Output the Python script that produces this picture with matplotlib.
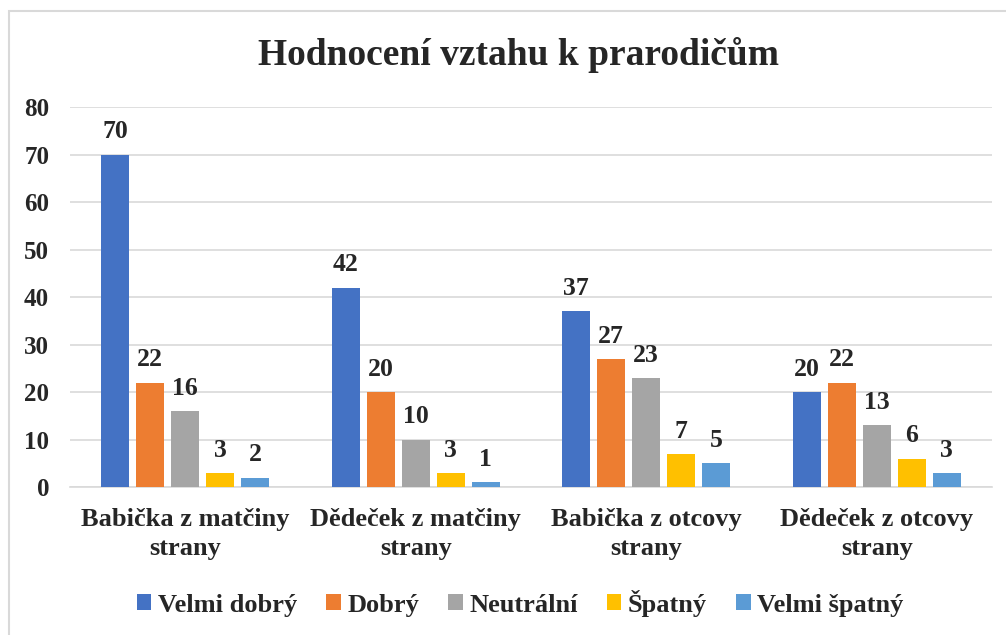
import numpy as np
import matplotlib.pyplot as plt
from matplotlib.patches import Rectangle

# ------------------------------
# Data
# ------------------------------
groups = ["Babička z matčiny\nstrany", "Dědeček z matčiny\nstrany",
          "Babička z otcovy\nstrany", "Dědeček z otcovy\nstrany"]
series = ["Velmi dobrý", "Dobrý", "Neutrální", "Špatný", "Velmi špatný"]
velmi_dobry = [70, 42, 37, 20]
dobry = [22, 20, 27, 22]
neutralni = [16, 10, 23, 13]
spatny = [3, 3, 7, 6]
velmi_spatny = [2, 1, 5, 3]
values = [velmi_dobry, dobry, neutralni, spatny, velmi_spatny]

colors = ["#4472C4", "#ED7D31", "#A5A5A5", "#FFC000", "#5B9BD5"]
text_color = "#262626"

plt.rcParams["font.family"] = ["Liberation Serif", "DejaVu Serif"]
plt.rcParams["font.weight"] = "bold"

fig = plt.figure(figsize=(10.06, 6.35), dpi=100)
# chart border (only left and top visible, the rest is cropped)
fig.patches.append(Rectangle((0.0085, -0.1), 1.1, 1.0827, transform=fig.transFigure,
                             fill=False, edgecolor="#D9D9D9", linewidth=1.5))

ax = fig.add_axes([0.0696, 0.233, 0.9165, 0.5985])

x = np.arange(len(groups))
step = 0.152
width = 0.1215
for i, (name, vals) in enumerate(zip(series, values)):
    pos = x + (i - 2) * step
    bars = ax.bar(pos, vals, width, color=colors[i], label=name, zorder=3)
    for b, v in zip(bars, vals):
        ax.annotate(str(v), (b.get_x() + b.get_width() / 2, v), xytext=(0, 8),
                    textcoords="offset points", ha="center", va="bottom",
                    fontsize=18.5, fontweight="bold", color=text_color)

ax.set_xlim(-0.5, 3.5)
ax.set_ylim(0, 80)
ax.set_yticks(range(0, 81, 10))
ax.yaxis.grid(True, color="#D9D9D9", linewidth=1.2, zorder=0)
ax.set_xticks(x)
ax.set_xticklabels(groups, fontsize=19, fontweight="bold", color=text_color, linespacing=1.35)
ax.tick_params(axis="y", labelsize=18, colors=text_color, length=0, pad=15)
ax.tick_params(axis="x", length=0, pad=15)
for lab in ax.get_yticklabels():
    lab.set_fontweight("bold")
for s in ["top", "right", "left"]:
    ax.spines[s].set_visible(False)
ax.spines["bottom"].set_color("#D9D9D9")
ax.spines["bottom"].set_linewidth(1.2)

fig.text(0.515, 0.913, "Hodnocení vztahu k prarodičům", ha="center", va="center",
         fontsize=27, fontweight="bold", color=text_color)

fig.legend(loc="center", bbox_to_anchor=(0.517, 0.05), ncol=5, frameon=False,
           prop={"size": 19, "weight": "bold"}, handlelength=0.55, handleheight=0.55,
           handletextpad=0.25, columnspacing=1.1, labelcolor=text_color)

fig.savefig("out.png", dpi=100)
